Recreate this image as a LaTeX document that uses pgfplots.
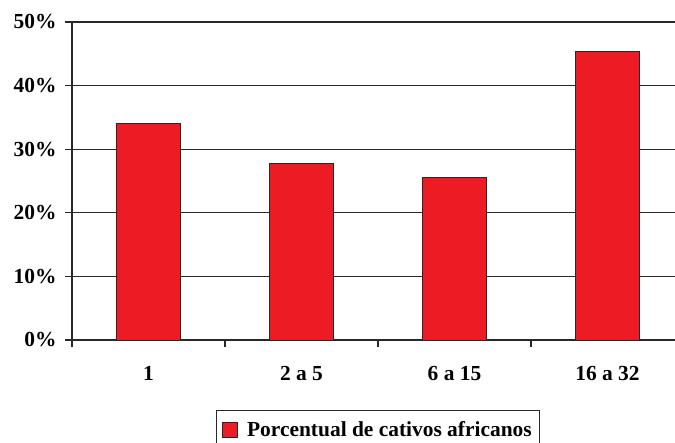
\documentclass[border=0pt]{standalone}
\usepackage{fontspec}
\setmainfont{Liberation Serif}
\usepackage{pgfplots}
\pgfplotsset{compat=1.18}
\definecolor{barred}{RGB}{237,28,36}
\definecolor{lines}{RGB}{40,40,40}

\begin{document}
\begin{tikzpicture}
\begin{axis}[
    at={(0,0)}, anchor=south west,
    scale only axis,
    width=603bp, height=318bp,
    xmin=-0.5, xmax=3.441,
    ymin=0, ymax=50,
    ybar, bar width=0.42,
    axis x line*=bottom, axis y line*=left,
    axis line style={lines, line width=1.2pt},
    xtick={0,1,2,3},
    xticklabels={1, 2 a 5, 6 a 15, 16 a 32},
    major x tick style={draw=none},
    minor xtick={-0.5,0.5,1.5,2.5},
    minor x tick style={lines, line width=1.2pt},
    minor tick length=7bp,
    ytick={0,10,...,50},
    yticklabels={0\%,10\%,20\%,30\%,40\%,50\%},
    major y tick style={lines, line width=1.2pt},
    major tick length=7bp,
    tick align=outside,
    ymajorgrids,
    grid style={lines, line width=1.1pt},
    /pgf/number format/assume math mode=true,
    tick label style={font=\fontsize{21.5}{24}\selectfont\bfseries},
    xticklabel style={yshift=-16bp},
    yticklabel style={xshift=-5bp},
    legend style={at={(0.5075,-0.2201)}, anchor=north,
        font=\fontsize{21.5}{24}\selectfont\bfseries,
        draw=lines, line width=1pt, inner xsep=6bp, inner ysep=9bp,
        legend cell align=left},
    legend image code/.code={
        \draw[#1, line width=0.6pt] (0bp,-7.5bp) rectangle (15bp,7.5bp);
        \path (22bp,0bp);},
]
\addplot[fill=barred, draw=lines, line width=1pt] coordinates {
    (0,34.1) (1,27.7) (2,25.6) (3,45.3)
};
\addlegendentry{Porcentual de cativos africanos}
\end{axis}
\pgfresetboundingbox
\path (-72bp,-103bp) rectangle (603bp,340bp);
\end{tikzpicture}
\end{document}
